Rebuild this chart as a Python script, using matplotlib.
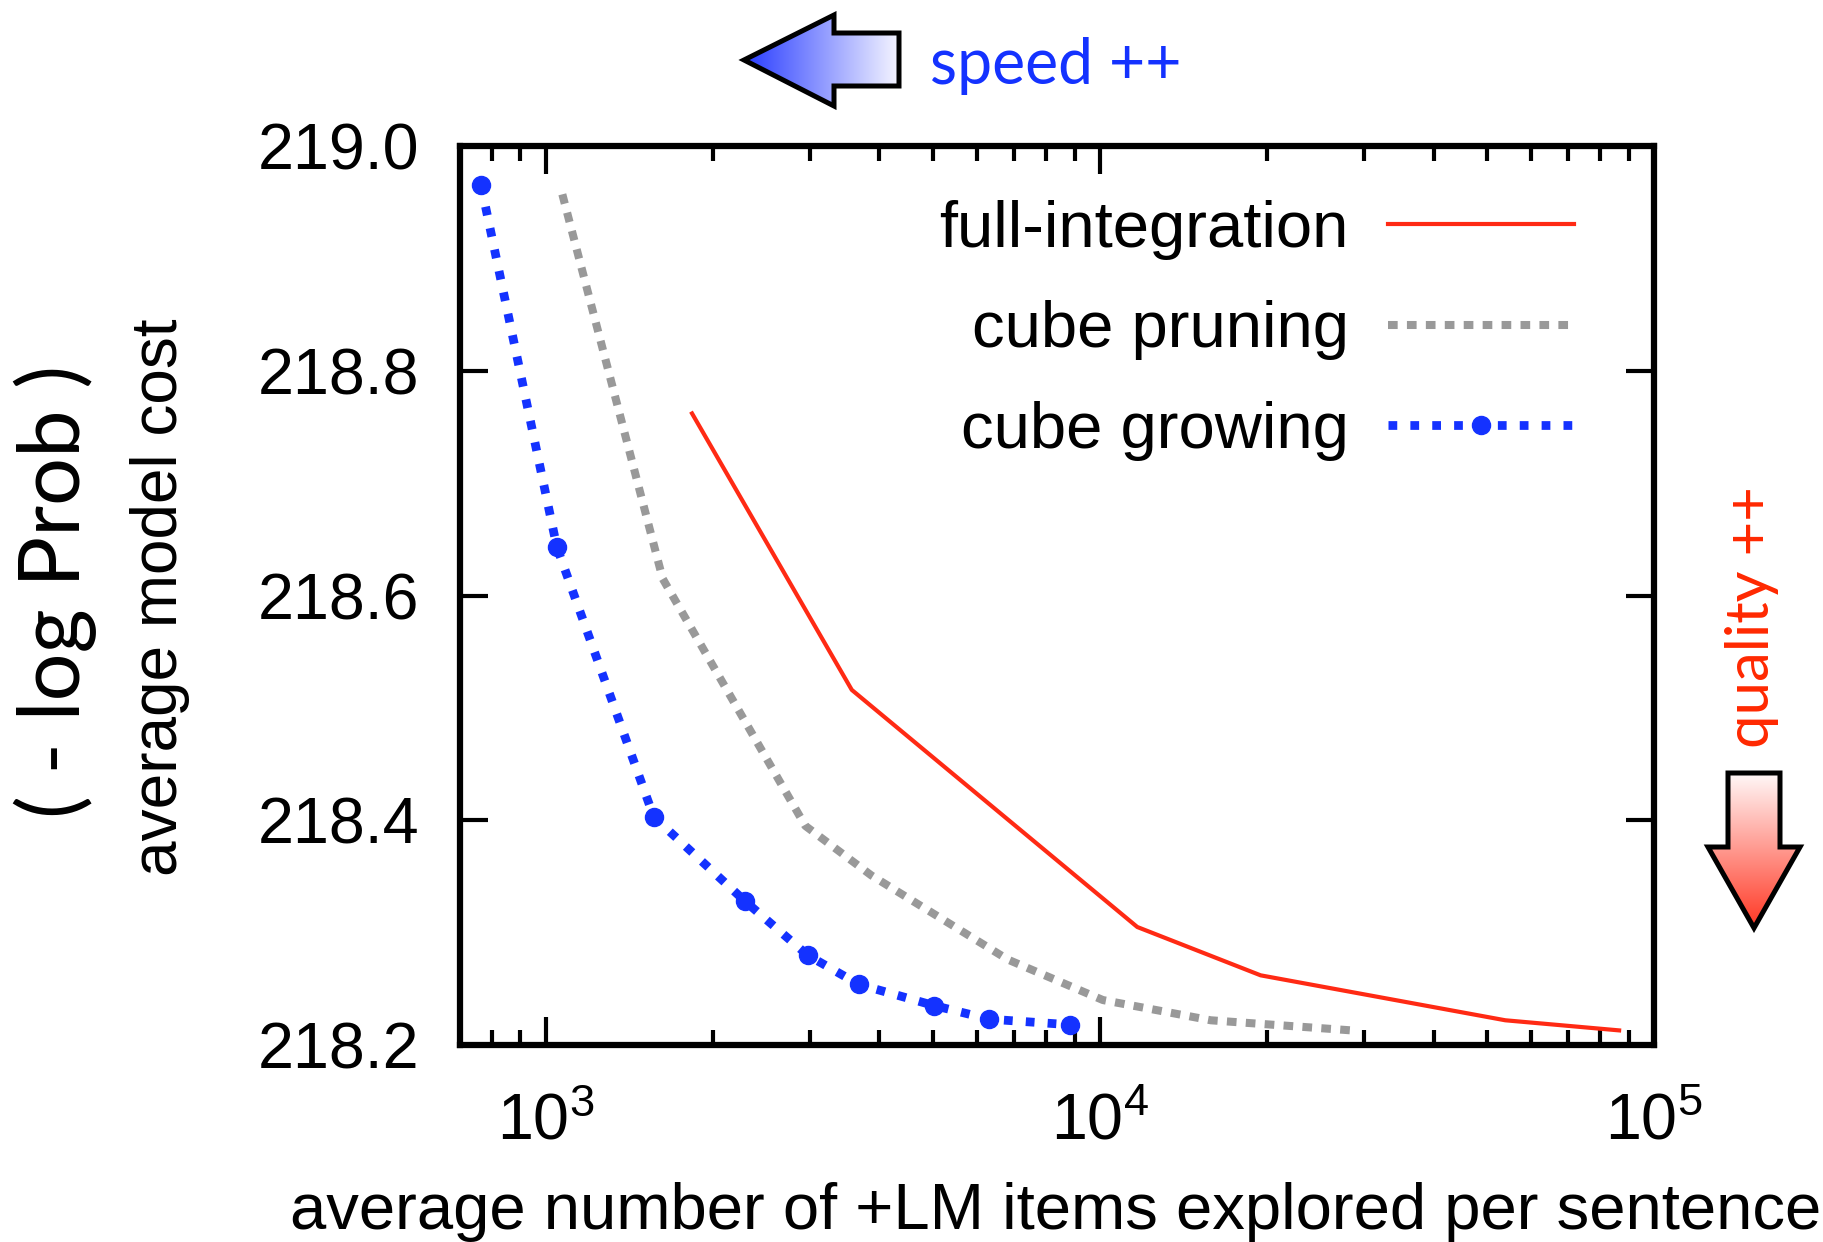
import numpy as np
import matplotlib
matplotlib.use("Agg")
import matplotlib.pyplot as plt
from matplotlib.patches import Polygon
from matplotlib.ticker import LogLocator, FixedLocator, FormatStrFormatter

plt.rcParams['font.family'] = ['Liberation Sans', 'DejaVu Sans']
plt.rcParams['mathtext.fontset'] = 'custom'
plt.rcParams['mathtext.rm'] = 'Liberation Sans'
plt.rcParams['mathtext.it'] = 'Liberation Sans'

# ---------------- data ----------------
full_x = [1836, 3566, 11680, 19500, 53900, 86500]
full_y = [218.762, 218.516, 218.305, 218.262, 218.222, 218.213]

prune_x = [1071, 1625, 2940, 3866, 6823, 10125, 15850, 28450]
prune_y = [218.957, 218.615, 218.395, 218.351, 218.276, 218.240, 218.222, 218.213]

grow_x = [764, 1047, 1566, 2288, 2967, 3669, 5028, 6316, 8848]
grow_y = [218.965, 218.643, 218.403, 218.328, 218.280, 218.254, 218.235, 218.223, 218.218]

series_labels = ["full-integration", "cube pruning", "cube growing"]
y_ticks = [218.2, 218.4, 218.6, 218.8, 219.0]
x_range = (700, 1e5)
y_range = (218.2, 219.0)

RED = '#ff2a14'
GRAY = '#999999'
BLUE = '#1432ff'

W, H = 1824, 1242
fig = plt.figure(figsize=(W / 100, H / 100), dpi=100)
L, R, T, B = 460, 1654, 146, 1045
ax = fig.add_axes([L / W, 1 - B / H, (R - L) / W, (B - T) / H])

ax.plot(full_x, full_y, color=RED, lw=3.0, label=series_labels[0], zorder=3)
ax.plot(prune_x, prune_y, color=GRAY, lw=5.8, dashes=(1.2, 1.15),
        dash_capstyle='butt', label=series_labels[1], zorder=3)
ax.plot(grow_x, grow_y, color=BLUE, lw=6.3, dashes=(1.0, 1.5),
        dash_capstyle='butt', marker='o', ms=13, mec=BLUE, mfc=BLUE,
        label=series_labels[2], zorder=4)

ax.set_xscale('log')
ax.set_xlim(*x_range)
ax.set_ylim(*y_range)
ax.yaxis.set_major_locator(FixedLocator(y_ticks))
ax.yaxis.set_major_formatter(FormatStrFormatter('%.1f'))
ax.xaxis.set_major_locator(LogLocator(base=10, numticks=10))
ax.xaxis.set_minor_locator(LogLocator(base=10, subs=np.arange(2, 10), numticks=20))

ax.tick_params(axis='both', which='both', direction='in', top=True, right=True,
               labelsize=46.5, width=3)
ax.tick_params(axis='both', which='major', length=20)
ax.tick_params(axis='both', which='minor', length=10.5)
ax.tick_params(axis='y', which='major', pad=29)
ax.tick_params(axis='x', which='major', pad=34)
ax.tick_params(axis='y', which='minor', left=False, right=False)
for s in ax.spines.values():
    s.set_linewidth(4.5)

leg = ax.legend(loc='upper right', bbox_to_anchor=((1574 - L) / (R - L), (B - 200) / (B - T)),
                markerfirst=False, frameon=False, fontsize=47, handlelength=2.85,
                handletextpad=0.6, labelspacing=0.62, borderpad=0, borderaxespad=0,
                numpoints=1)

# axis labels
fig.text(1056 / W, 1 - 1229 / H, "average number of +LM items explored per sentence",
         ha='center', va='baseline', fontsize=47)
fig.text(160 / W, 1 - 597 / H, "average model cost", rotation=90,
         ha='center', va='center', fontsize=46)
fig.text(55 / W, 1 - 591 / H, "( - log Prob )", rotation=90,
         ha='center', va='center', fontsize=61, family=['Lato', 'DejaVu Sans'])

# annotations
fig.text(930 / W, 1 - 84 / H, "speed ++", ha='left', va='baseline', fontsize=45,
         color=BLUE, family=['Lato', 'DejaVu Sans'])
fig.text(1752 / W, 1 - 617 / H, "quality ++", rotation=90, ha='center', va='center',
         fontsize=43, color='#ff2800', family=['Lato', 'DejaVu Sans'])

# overlay for arrows (pixel coordinates)
ov = fig.add_axes([0, 0, 1, 1])
ov.set_xlim(0, W)
ov.set_ylim(H, 0)
ov.axis('off')

left_arrow = [(744, 60), (834, 15), (834, 33), (899, 33), (899, 86), (834, 86), (834, 106)]
grad = np.linspace(0, 1, 256)
c0 = np.array([40, 60, 255]) / 255.
c1 = np.array([245, 245, 255]) / 255.
img = (c0[None, :] * (1 - grad[:, None]) + c1[None, :] * grad[:, None])[None, :, :]
im = ov.imshow(img, extent=[744, 899, 106, 15], aspect='auto', zorder=1)
p = Polygon(left_arrow, closed=True, fc='none', ec='black', lw=3.6, joinstyle='miter', zorder=2)
ov.add_patch(p)
im.set_clip_path(p)

down_arrow = [(1728, 773), (1780, 773), (1780, 847), (1800, 847), (1754, 928), (1708, 847), (1728, 847)]
d0 = np.array([255, 248, 248]) / 255.
d1 = np.array([255, 55, 35]) / 255.
img2 = (d0[None, :] * (1 - grad[:, None]) + d1[None, :] * grad[:, None])[:, None, :]
im2 = ov.imshow(img2, extent=[1708, 1800, 928, 773], aspect='auto', zorder=1)
p2 = Polygon(down_arrow, closed=True, fc='none', ec='black', lw=3.6, joinstyle='miter', zorder=2)
ov.add_patch(p2)
im2.set_clip_path(p2)
ov.set_xlim(0, W)
ov.set_ylim(H, 0)

fig.savefig("out.png", dpi=100)
